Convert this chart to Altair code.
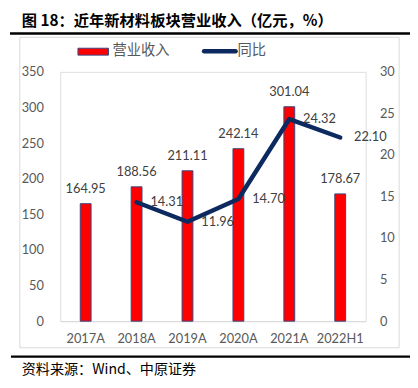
import altair as alt
import pandas as pd

categories = ["2017A", "2018A", "2019A", "2020A", "2021A", "2022H1"]
revenue = [164.95, 188.56, 211.11, 242.14, 301.04, 178.67]
yoy = [None, 14.31, 11.96, 14.70, 24.32, 22.10]

title_text = "图 18：近年新材料板块营业收入（亿元，%）"
source_text = "资料来源：Wind、中原证券"
legend_names = ["营业收入", "同比"]

df = pd.DataFrame({"cat": categories, "rev": revenue, "yoy": yoy})
one = pd.DataFrame({"k": [0]})

RED = "#FF0000"
NAVY = "#0C2A5F"
GRAY = "#595959"
FONT = "Lato"
CJK = "Noto Sans CJK SC"

x_enc = alt.X("cat:N", sort=categories, title=None,
              scale=alt.Scale(paddingInner=0.0, paddingOuter=0.0),
              axis=alt.Axis(labelAngle=0, ticks=False, domain=True, domainColor="#D9D9D9",
                            labelColor=GRAY, labelFont=FONT, labelFontSize=13, labelPadding=12,
                            grid=False))

y_left = alt.Y("rev:Q", title=None,
               scale=alt.Scale(domain=[0, 350], nice=False),
               axis=alt.Axis(values=list(range(0, 351, 50)), ticks=False, domain=False, grid=False,
                             labelOverlap=False,
                             labelColor=GRAY, labelFont=FONT, labelFontSize=13, labelPadding=17))

y_right = alt.Y("yoy:Q", title=None,
                scale=alt.Scale(domain=[0, 30], nice=False),
                axis=alt.Axis(orient="right", values=list(range(0, 31, 5)), ticks=False, domain=False,
                              grid=False, labelOverlap=False, labelColor=GRAY, labelFont=FONT,
                              labelFontSize=13, labelPadding=14))

base = alt.Chart(df)

bars = base.mark_bar(size=11, color=RED, stroke="#3A4680", strokeWidth=1).encode(x=x_enc, y=y_left)
bar_labels = base.mark_text(baseline="bottom", dy=-8, font=FONT, fontSize=13, color="#404040").encode(
    x=x_enc, y=y_left, text=alt.Text("rev:Q", format=".2f"))
left = alt.layer(bars, bar_labels)

line_df = base.transform_filter("datum.yoy != null")
line = line_df.mark_line(color=NAVY, strokeWidth=4.5, strokeCap="round", strokeJoin="round").encode(
    x=x_enc, y=y_right)
line_labels = line_df.mark_text(align="left", baseline="middle", dx=14, font=FONT, fontSize=13,
                                color="#404040").encode(
    x=x_enc, y=y_right, text=alt.Text("yoy:Q", format=".2f"))
right = alt.layer(line, line_labels)

main = alt.layer(left, right).resolve_scale(y="independent")

# decorations (frame, rules, title, legend, source)
deco_base = alt.Chart(one)
frame = deco_base.mark_rect(fill="transparent", stroke="#D9D9D9", strokeWidth=1).encode(
    x=alt.value(-41), x2=alt.value(344), y=alt.value(-35), y2=alt.value(280))
rule_top = deco_base.mark_rule(color="black", strokeWidth=2.5).encode(
    x=alt.value(-51), x2=alt.value(360), y=alt.value(-39))
rule_bot = deco_base.mark_rule(color="black", strokeWidth=2.5).encode(
    x=alt.value(-50), x2=alt.value(360), y=alt.value(289))
title = deco_base.mark_text(align="left", baseline="middle", font=CJK, fontSize=15.5,
                            fontWeight="bold", color="#000000").encode(
    x=alt.value(-39), y=alt.value(-52), text=alt.value(title_text))
source = deco_base.mark_text(align="left", baseline="middle", font=CJK, fontSize=14.3,
                             color="#000000").encode(
    x=alt.value(-39), y=alt.value(303), text=alt.value(source_text))
leg_rect = deco_base.mark_rect(fill=RED, stroke="#3A4680", strokeWidth=1).encode(
    x=alt.value(18), x2=alt.value(49), y=alt.value(-24), y2=alt.value(-17))
leg_txt1 = deco_base.mark_text(align="left", baseline="middle", font=CJK, fontSize=14.5,
                               color=GRAY).encode(
    x=alt.value(53), y=alt.value(-21), text=alt.value(legend_names[0]))
leg_line = deco_base.mark_rule(color=NAVY, strokeWidth=4.5, strokeCap="round").encode(
    x=alt.value(146), x2=alt.value(178), y=alt.value(-21))
leg_txt2 = deco_base.mark_text(align="left", baseline="middle", font=CJK, fontSize=14.5,
                               color=GRAY).encode(
    x=alt.value(180), y=alt.value(-21), text=alt.value(legend_names[1]))

chart = alt.layer(frame, rule_top, rule_bot, title, source, leg_rect, leg_txt1, leg_line, leg_txt2,
                  main).resolve_scale(y="independent").properties(
    width=310, height=253,
    autosize=alt.AutoSizeParams(type="none"),
    padding={"left": 53, "top": 62, "right": 45, "bottom": 63},
).configure_view(stroke=None).configure(background="white")

chart.save("out.html", embed_options={"renderer": "svg", "actions": False})
